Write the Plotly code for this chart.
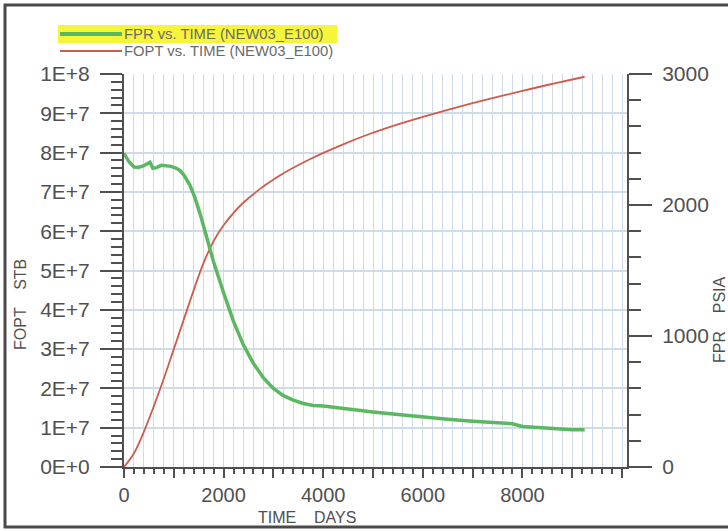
import plotly.graph_objects as go

# FOPT: field oil production total (STB) vs time (days)
time_fopt = [0, 200, 400, 600, 800, 1000, 1200, 1400, 1600, 1800, 2000, 2400,
             3070, 3730, 4400, 4940, 5500, 6000, 6500, 7000, 7500, 8000, 8500,
             9000, 9250]
fopt = [0.0, 3.5e6, 9.0e6, 15.5e6, 22.5e6, 30.0e6, 37.5e6, 45.0e6, 52.0e6,
        57.5e6, 61.5e6, 67.3e6, 73.7e6, 78.3e6, 82.1e6, 84.8e6, 87.2e6,
        89.1e6, 90.9e6, 92.6e6, 94.2e6, 95.7e6, 97.2e6, 98.6e6, 99.3e6]

# FPR: field pressure (PSIA) vs time (days)
time_fpr = [0, 100, 200, 300, 400, 520, 580, 650, 750, 850, 950, 1050, 1120,
            1200, 1325, 1420, 1525, 1690, 1790, 2000, 2200, 2400, 2600, 2800,
            3000, 3200, 3400, 3600, 3800, 4000, 4200, 4500, 5000, 5500, 6000,
            6500, 7000, 7500, 7800, 8000, 8500, 9000, 9250]
fpr = [2395, 2330, 2290, 2288, 2300, 2326, 2280, 2285, 2303, 2300, 2295,
       2280, 2265, 2230, 2150, 2060, 1936, 1714, 1576, 1330, 1110, 930, 790,
       680, 600, 545, 510, 485, 470, 465, 455, 440, 420, 400, 380, 365, 350,
       340, 330, 310, 295, 285, 285]

x_major = list(range(0, 10001, 1000))
x_labels = [str(v) if v % 2000 == 0 and v < 10000 else "" for v in x_major]
fopt_ticks = [i * 1e7 for i in range(11)]
fopt_labels = ["0E+0"] + [f"{i}E+7" for i in range(1, 10)] + ["1E+8"]
fpr_ticks = [0, 1000, 2000, 3000]

AX = "#505050"
GRID = "#d0dbea"
FONT = "Liberation Sans, Arial, sans-serif"

fig = go.Figure()
fig.add_trace(go.Scatter(
    x=time_fpr, y=fpr, yaxis="y2", mode="lines",
    name="FPR vs. TIME (NEW03_E100)",
    line=dict(color="#5cb860", width=3.5),
))
fig.add_trace(go.Scatter(
    x=time_fopt, y=fopt, mode="lines", line_shape="spline",
    name="FOPT vs. TIME (NEW03_E100)",
    line=dict(color="#cf5b4b", width=1.8),
))

fig.update_layout(
    width=728, height=531,
    margin=dict(l=124, r=101, t=74, b=64),
    paper_bgcolor="white", plot_bgcolor="white",
    showlegend=False,
    font=dict(family=FONT, color=AX),
    xaxis=dict(
        range=[0, 10100], showline=True, linecolor=AX, linewidth=2,
        zeroline=False, showgrid=False,
        tickvals=x_major, ticktext=x_labels,
        ticks="outside", ticklen=9, tickwidth=2, tickcolor=AX,
        tickfont=dict(size=20, color=AX),
        minor=dict(dtick=200, ticks="outside", ticklen=5, tickwidth=1.5,
                   tickcolor=AX, showgrid=True, gridcolor=GRID, gridwidth=1),
    ),
    yaxis=dict(
        range=[0, 1e8], showline=True, linecolor=AX, linewidth=2,
        zeroline=False, showgrid=True, gridcolor=GRID, gridwidth=1.5,
        tickvals=fopt_ticks, ticktext=fopt_labels,
        ticks="outside", ticklen=22, tickwidth=2, tickcolor=AX,
        ticklabelstandoff=6,
        tickfont=dict(size=21, color=AX),
        minor=dict(dtick=2e6, ticks="outside", ticklen=11, tickwidth=1.5,
                   tickcolor=AX, showgrid=False),
    ),
    yaxis2=dict(
        range=[0, 3000], overlaying="y", side="right", anchor="x",
        showline=True, linecolor=AX, linewidth=2,
        zeroline=False, showgrid=False,
        tickvals=fpr_ticks,
        ticks="outside", ticklen=23, tickwidth=2, tickcolor=AX,
        ticklabelstandoff=6,
        tickfont=dict(size=21, color=AX),
        minor=dict(dtick=200, ticks="outside", ticklen=12, tickwidth=1.5,
                   tickcolor=AX),
    ),
)


def px_x(p):
    return (p - 124) / 503


def px_y(p):
    return (467 - p) / 393


# axis titles
fig.add_annotation(text="TIME    DAYS", xref="paper", yref="paper",
                   x=px_x(307), y=px_y(517),
                   showarrow=False, font=dict(size=16, color=AX),
                   xanchor="center", yanchor="middle")
fig.add_annotation(text="FOPT    STB", xref="paper", yref="paper",
                   x=px_x(20), y=px_y(305), textangle=-90,
                   showarrow=False, font=dict(size=16, color=AX),
                   xanchor="center", yanchor="middle")
fig.add_annotation(text="FPR    PSIA", xref="paper", yref="paper",
                   x=px_x(719), y=px_y(320), textangle=-90,
                   showarrow=False, font=dict(size=16, color=AX),
                   xanchor="center", yanchor="middle")

# legend block in the top-left corner
fig.add_shape(type="rect", xref="paper", yref="paper",
              x0=px_x(58), x1=px_x(337), y0=px_y(43), y1=px_y(25),
              fillcolor="#f7f53a", line=dict(width=0), layer="below")
fig.add_shape(type="line", xref="paper", yref="paper",
              x0=px_x(60), x1=px_x(122), y0=px_y(34), y1=px_y(34),
              line=dict(color="#5cb860", width=4))
fig.add_shape(type="line", xref="paper", yref="paper",
              x0=px_x(60), x1=px_x(122), y0=px_y(51), y1=px_y(51),
              line=dict(color="#cf5b4b", width=1.8))
fig.add_annotation(text="FPR vs. TIME (NEW03_E100)", xref="paper", yref="paper",
                   x=px_x(122), y=px_y(34), xanchor="left", yanchor="middle",
                   showarrow=False, font=dict(size=14.8, color="#6a6a6a"))
fig.add_annotation(text="FOPT vs. TIME (NEW03_E100)", xref="paper", yref="paper",
                   x=px_x(122), y=px_y(51), xanchor="left", yanchor="middle",
                   showarrow=False, font=dict(size=14.8, color="#6a6a6a"))

# outer frame
fig.add_shape(type="rect", xref="paper", yref="paper",
              x0=px_x(5), x1=px_x(760), y0=px_y(527), y1=px_y(5),
              line=dict(color="#4a4a4a", width=3), fillcolor="rgba(0,0,0,0)",
              layer="below")

fig.write_html("out.html")
